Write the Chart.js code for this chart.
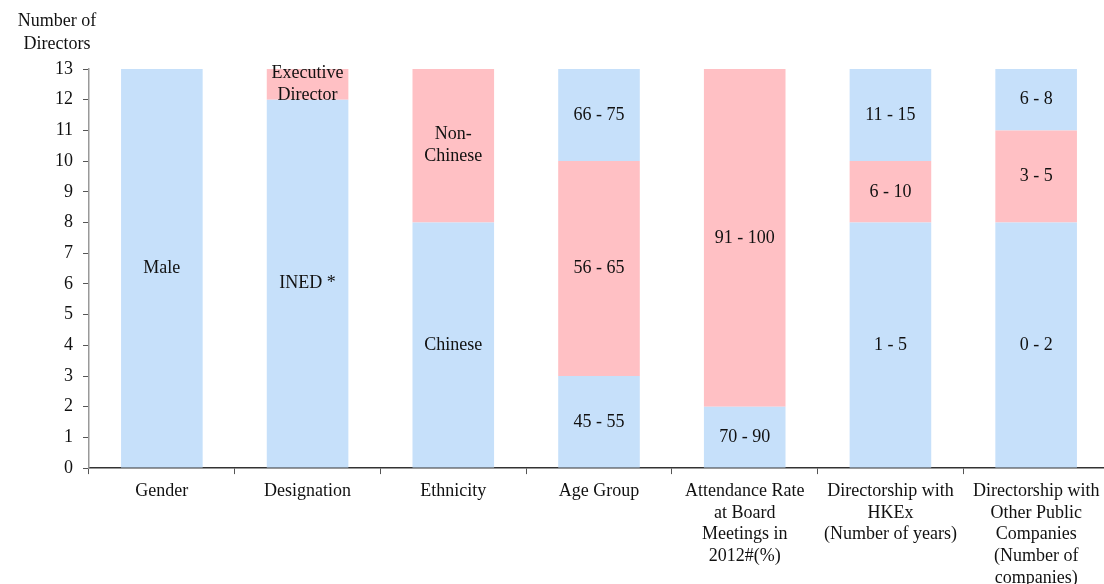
<!DOCTYPE html>
<html lang="en">
<head>
    <meta charset="UTF-8">
    <title>Board of Directors profile</title>
    <script src="https://cdn.jsdelivr.net/npm/chart.js"></script>
    <style>
        html, body { margin: 0; padding: 0; background: #fff; overflow: hidden; }
        #wrap { width: 1109px; height: 595px; }
    </style>
</head>
<body>
    <div id="wrap"><canvas id="boardChart"></canvas></div>
    <script>
        const categories = [
            'Gender',
            'Designation',
            'Ethnicity',
            'Age Group',
            ['Attendance Rate', 'at Board', 'Meetings in', '2012#(%)'],
            ['Directorship with', 'HKEx', '(Number of years)'],
            ['Directorship with', 'Other Public', 'Companies', '(Number of', 'companies)']
        ];
        const yTicks = [0, 1, 2, 3, 4, 5, 6, 7, 8, 9, 10, 11, 12, 13];

        // bottom / middle / top segments of each bar
        const lowerValues = [13, 12, 8, 3, 2, 8, 8];
        const middleValues = [0, 1, 5, 7, 11, 2, 3];
        const upperValues = [0, 0, 0, 3, 0, 3, 2];

        const lowerLabels = ['Male', 'INED *', 'Chinese', '45 - 55', '70 - 90', '1 - 5', '0 - 2'];
        const middleLabels = ['', ['Executive', 'Director'], ['Non-', 'Chinese'], '56 - 65', '91 - 100', '6 - 10', '3 - 5'];
        const upperLabels = ['', '', '', '66 - 75', '', '11 - 15', '6 - 8'];

        const blue = '#C6E0FA';
        const pink = '#FFC0C4';
        const font = 'Liberation Serif';

        // write the segment names inside the bars
        const segmentText = {
            id: 'segmentText',
            afterDatasetsDraw(chart) {
                const ctx = chart.ctx;
                ctx.save();
                ctx.fillStyle = '#111';
                ctx.font = '18px "' + font + '"';
                ctx.textAlign = 'center';
                ctx.textBaseline = 'middle';
                chart.data.datasets.forEach((ds, di) => {
                    chart.getDatasetMeta(di).data.forEach((bar, i) => {
                        let txt = ds.segLabels[i];
                        if (!txt || !ds.data[i]) return;
                        const lines = Array.isArray(txt) ? txt : [txt];
                        const midY = (bar.y + bar.base) / 2;
                        const lh = 22;
                        lines.forEach((l, k) => {
                            ctx.fillText(l, bar.x, midY + (k - (lines.length - 1) / 2) * lh);
                        });
                    });
                });
                ctx.restore();
            }
        };

        // y axis title above the tick labels
        const axisTitle = {
            id: 'axisTitle',
            afterDraw(chart) {
                const ctx = chart.ctx;
                ctx.save();
                ctx.fillStyle = '#111';
                ctx.font = '18px "' + font + '"';
                ctx.textAlign = 'center';
                ctx.textBaseline = 'middle';
                ctx.fillText('Number of', 57, 21);
                ctx.fillText('Directors', 57, 44);
                ctx.restore();
            }
        };

        const ctx = document.getElementById('boardChart').getContext('2d');
        new Chart(ctx, {
            type: 'bar',
            data: {
                labels: categories,
                datasets: [
                    { data: lowerValues, segLabels: lowerLabels, backgroundColor: blue },
                    { data: middleValues, segLabels: middleLabels, backgroundColor: pink },
                    { data: upperValues, segLabels: upperLabels, backgroundColor: blue }
                ]
            },
            options: {
                responsive: true,
                maintainAspectRatio: false,
                animation: false,
                datasets: {
                    bar: { barPercentage: 0.56, categoryPercentage: 1, borderWidth: 0 }
                },
                layout: { padding: { top: 69, left: 45, right: 0, bottom: 0 } },
                plugins: {
                    legend: { display: false },
                    tooltip: { enabled: false }
                },
                scales: {
                    x: {
                        stacked: true,
                        grid: { offset: true, drawOnChartArea: false, tickLength: 6, color: '#555' },
                        border: { color: '#333', width: 1.5 },
                        ticks: {
                            color: '#111',
                            font: { family: font, size: 18, lineHeight: 1.21 },
                            maxRotation: 0,
                            autoSkip: false,
                            padding: 6
                        }
                    },
                    y: {
                        stacked: true,
                        min: 0,
                        max: 13,
                        afterBuildTicks(scale) {
                            scale.ticks = yTicks.map(v => ({ value: v }));
                        },
                        grid: { drawOnChartArea: false, tickLength: 6, color: '#555' },
                        border: { color: '#999', width: 1.5 },
                        ticks: {
                            color: '#111',
                            font: { family: font, size: 18 },
                            padding: 10
                        }
                    }
                }
            },
            plugins: [segmentText, axisTitle]
        });
    </script>
</body>
</html>
